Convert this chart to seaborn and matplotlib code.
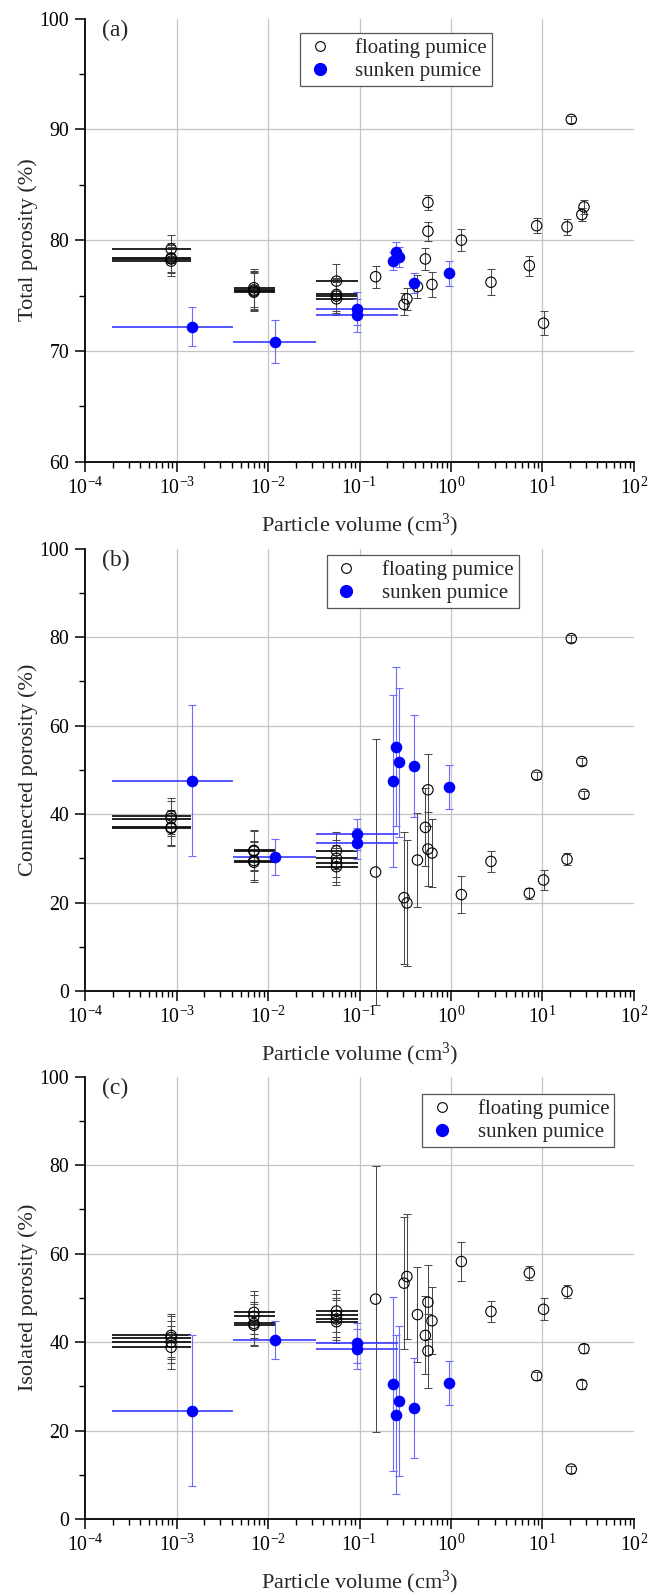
import numpy as np
import pandas as pd
import matplotlib
matplotlib.use("Agg")
import matplotlib.pyplot as plt
import seaborn as sns
from matplotlib.lines import Line2D
from matplotlib.ticker import FixedLocator, LogFormatterMathtext, MultipleLocator, NullFormatter

# ---------------- data ----------------
# floating pumice: 3 size-class clusters (4 samples each) + single particles
fl_vol = [0.00087] * 4 + [0.0070] * 4 + [0.056] * 4 + [
    0.15, 0.307, 0.33, 0.43, 0.525, 0.56, 0.56, 0.62, 1.30, 2.74, 7.2, 8.66, 10.3, 18.6, 20.7, 27.0, 28.5]
fl_xlo = [0.000195] * 4 + [0.0042] * 4 + [0.0334] * 4 + [np.nan] * 17
fl_xhi = [0.00145] * 4 + [0.0118] * 4 + [0.0955] * 4 + [np.nan] * 17

fl_total = [79.2, 78.4, 78.3, 78.1, 75.7, 75.5, 75.4, 75.3, 76.3, 75.1, 74.95, 74.7,
            76.7, 74.2, 74.7, 75.8, 78.3, 80.8, 83.4, 76.0, 80.0, 76.2, 77.7, 81.3, 72.5, 81.2, 90.9, 82.3, 83.0]
fl_total_err = [1.3] * 4 + [1.7] * 4 + [1.5] * 4 + [
    1.0, 1.0, 1.0, 1.05, 1.0, 0.85, 0.7, 1.1, 1.0, 1.15, 0.9, 0.7, 1.1, 0.7, 0.3, 0.6, 0.6]

fl_conn = [39.6, 39.0, 37.0, 36.8, 31.8, 31.6, 29.5, 29.1, 31.7, 30.0, 28.85, 28.1,
           26.9, 21.1, 19.9, 29.6, 37.0, 32.1, 45.5, 31.2, 21.8, 29.3, 22.1, 48.8, 25.1, 29.8, 79.7, 51.9, 44.5]
fl_conn_err = [4.0] * 4 + [4.5] * 4 + [4.2] * 4 + [
    30.0, 14.9, 14.2, 10.7, 8.8, 8.4, 8.2, 7.6, 4.2, 2.3, 1.3, 0.8, 2.3, 1.4, 0.8, 0.8, 0.8]

fl_iso = [41.5, 41.0, 40.0, 38.8, 46.7, 45.8, 44.2, 43.8, 47.0, 46.0, 45.2, 44.6,
          49.7, 53.3, 54.8, 46.2, 41.5, 49.0, 38.0, 44.8, 58.2, 46.9, 55.6, 32.4, 47.4, 51.4, 11.3, 30.4, 38.5]
fl_iso_err = [4.8] * 4 + [4.8] * 4 + [4.8] * 4 + [
    30.0, 14.9, 14.2, 10.7, 8.8, 8.3, 8.4, 7.6, 4.3, 2.4, 1.5, 0.9, 2.5, 1.5, 0.8, 1.0, 1.0]

# sunken pumice
sk_vol = [0.00146, 0.0118, 0.0946, 0.0946, 0.23, 0.249, 0.27, 0.39, 0.96]
sk_xlo = [0.000195, 0.0041, 0.0334, 0.0334] + [np.nan] * 5
sk_xhi = [0.0041, 0.0334, 0.266, 0.266] + [np.nan] * 5
sk_total = [72.2, 70.85, 73.8, 73.2, 78.1, 78.9, 78.5, 76.1, 77.0]
sk_total_err = [1.8, 1.9, 1.5, 1.5, 0.8, 0.9, 0.9, 0.9, 1.1]
sk_conn = [47.6, 30.3, 35.4, 33.4, 47.5, 55.2, 51.7, 50.9, 46.1]
sk_conn_err = [17.0, 4.0, 3.5, 3.5, 19.4, 18.0, 16.9, 11.5, 5.0]
sk_iso = [24.5, 40.5, 38.4, 39.8, 30.5, 23.6, 26.7, 25.1, 30.7]
sk_iso_err = [17.0, 4.3, 4.5, 4.5, 19.6, 18.0, 16.9, 11.2, 5.0]

x_ticks = [1e-4, 1e-3, 1e-2, 1e-1, 1e0, 1e1, 1e2]
panel_tags = ["(a)", "(b)", "(c)"]
y_labels = ["Total porosity (%)", "Connected porosity (%)", "Isolated porosity (%)"]
x_label = "Particle volume (cm$^3$)"
legend_labels = ["floating pumice", "sunken pumice"]

# ---------------- style ----------------
sns.set_theme(style="ticks")
plt.rcParams["font.family"] = ["Liberation Serif", "DejaVu Serif"]
plt.rcParams["mathtext.fontset"] = "custom"
plt.rcParams["mathtext.rm"] = "Liberation Serif"
plt.rcParams["mathtext.it"] = "Liberation Serif:italic"
plt.rcParams["axes.unicode_minus"] = False

BLUE = "#0000ff"
BLUE_ERR = "#6b6bff"
FL_ERR = "#4a4a4a"
GRID = "#c4c4c4"

fig = plt.figure(figsize=(6.5, 15.96), dpi=100)
left, width = 0.1311, 0.844
bottoms = [0.7107, 0.3791, 0.0482]
heights = [0.2777, 0.2770, 0.2773]
ylims = [(60, 100), (0, 100), (0, 100)]
ymaj = [10, 20, 20]
ymin = [5, 10, 10]
leg_anchor = [(0.3915, 0.967), (0.440, 0.986), (0.6145, 0.960)]

fl_y = [fl_total, fl_conn, fl_iso]
fl_e = [fl_total_err, fl_conn_err, fl_iso_err]
sk_y = [sk_total, sk_conn, sk_iso]
sk_e = [sk_total_err, sk_conn_err, sk_iso_err]

minor_x = [m * 10.0 ** d for d in range(-4, 2) for m in range(2, 10)]

for i in range(3):
    ax = fig.add_axes([left, bottoms[i], width, heights[i]])
    fdf = pd.DataFrame({"vol": fl_vol, "val": fl_y[i], "err": fl_e[i], "xlo": fl_xlo, "xhi": fl_xhi})
    sdf = pd.DataFrame({"vol": sk_vol, "val": sk_y[i], "err": sk_e[i], "xlo": sk_xlo, "xhi": sk_xhi})

    # interior grid lines only (no line along the top / right edge)
    lo, hi = ylims[i]
    for yv in np.arange(lo + ymaj[i], hi, ymaj[i]):
        ax.axhline(yv, color=GRID, lw=0.9, zorder=0)
    for xv in x_ticks[1:-1]:
        ax.axvline(xv, color=GRID, lw=0.9, zorder=0)

    # floating: vertical error bars with caps
    ax.errorbar(fdf["vol"], fdf["val"], yerr=fdf["err"], fmt="none", ecolor=FL_ERR,
                elinewidth=0.75, capsize=3, capthick=0.75, zorder=2, clip_on=False)
    fc = fdf.dropna(subset=["xlo"])
    ax.errorbar(fc["vol"], fc["val"], xerr=[fc["vol"] - fc["xlo"], fc["xhi"] - fc["vol"]],
                fmt="none", ecolor="#111111", elinewidth=1.3, capsize=0, zorder=2)
    # sunken error bars
    ax.errorbar(sdf["vol"], sdf["val"], yerr=sdf["err"], fmt="none", ecolor=BLUE_ERR,
                elinewidth=0.8, capsize=3, capthick=0.8, zorder=3, clip_on=False)
    sc = sdf.dropna(subset=["xlo"])
    ax.errorbar(sc["vol"], sc["val"], xerr=[sc["vol"] - sc["xlo"], sc["xhi"] - sc["vol"]],
                fmt="none", ecolor="#3a3aff", elinewidth=1.2, capsize=0, zorder=3)

    sns.scatterplot(data=fdf, x="vol", y="val", ax=ax, marker="o", s=56,
                    facecolor="none", edgecolor="black", linewidth=0.8, zorder=4, legend=False)
    sns.scatterplot(data=sdf, x="vol", y="val", ax=ax, marker="o", s=70,
                    color=BLUE, edgecolor=BLUE, linewidth=0, zorder=5, legend=False)

    ax.set_xscale("log")
    ax.set_xlim(x_ticks[0], x_ticks[-1])
    ax.set_ylim(*ylims[i])
    ax.xaxis.set_major_locator(FixedLocator(x_ticks))
    ax.xaxis.set_minor_locator(FixedLocator(minor_x))
    ax.xaxis.set_major_formatter(LogFormatterMathtext())
    ax.xaxis.set_minor_formatter(NullFormatter())
    ax.yaxis.set_major_locator(MultipleLocator(ymaj[i]))
    ax.yaxis.set_minor_locator(MultipleLocator(ymin[i]))

    ax.grid(False)
    for s in ["top", "right"]:
        ax.spines[s].set_visible(False)
    for s in ["left", "bottom"]:
        ax.spines[s].set_linewidth(1.3)
        ax.spines[s].set_color("black")
    ax.tick_params(which="major", direction="out", length=7, width=1.1, labelsize=14.3,
                   colors="black", pad=4.5)
    ax.tick_params(which="minor", direction="out", length=4, width=1.0, colors="black")

    ax.set_xlabel(x_label, fontsize=16)
    ax.set_ylabel(y_labels[i], fontsize=16)
    ax.xaxis.set_label_coords(0.5, -0.113)
    ax.yaxis.set_label_coords(-0.086, 0.5)

    ax.text(0.03, 0.997, panel_tags[i], transform=ax.transAxes, fontsize=17,
            va="top", ha="left")

    handles = [
        Line2D([], [], marker="o", ls="none", mfc="none", mec="black", ms=7, mew=0.8),
        Line2D([], [], marker="o", ls="none", mfc=BLUE, mec=BLUE, ms=8.5),
    ]
    leg = ax.legend(handles, legend_labels, loc="upper left", bbox_to_anchor=leg_anchor[i],
                    borderaxespad=0, fontsize=15, frameon=True, fancybox=False, framealpha=1,
                    edgecolor="#555555", borderpad=0.25, handlelength=1.4, handletextpad=1.0,
                    labelspacing=0.15)
    leg.get_frame().set_linewidth(0.9)

fig.savefig("out.png", dpi=100)
